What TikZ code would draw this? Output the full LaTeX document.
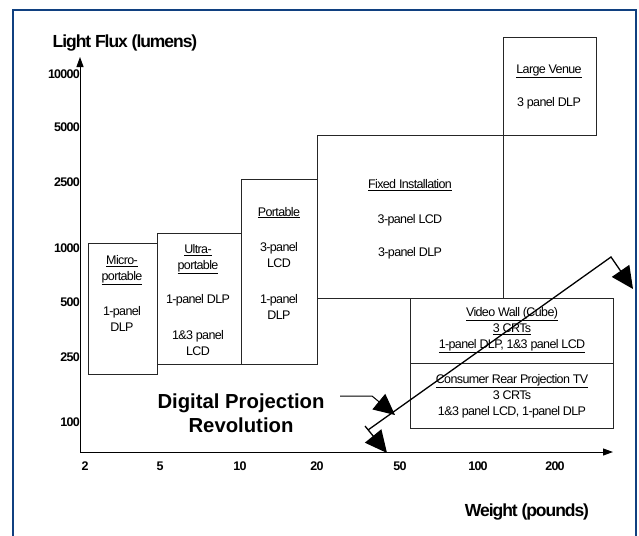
\documentclass[tikz,border=0pt]{standalone}
\usepackage{fontspec}
\setmainfont{Liberation Sans}
\newfontfamily\condfont[LetterSpace=-5]{Liberation Sans}
\newfontfamily\condbold[LetterSpace=-6]{Liberation Sans Bold}
\usetikzlibrary{arrows.meta}
\definecolor{frameblue}{RGB}{16,64,128}
\begin{document}
\begin{tikzpicture}[x=1pt,y=-1pt,
  box/.style={draw=black!85, line width=0.8pt, minimum width=#1, anchor=north west, inner sep=0pt, outer sep=0pt},
  small/.style={font=\condfont\fontsize{12.5}{16}\selectfont, align=center, inner sep=0pt},
  axlab/.style={font=\condbold\fontsize{12.5}{13}\selectfont, inner sep=0pt},
  ttl/.style={font=\condbold\fontsize{17.5}{19}\selectfont, inner sep=0pt},
  axis/.style={line width=1pt, -{Triangle[length=10pt,width=7pt]}},
  bigtip/.style={line width=1.3pt, -{Triangle[length=22pt,width=21pt,fill=black]}}]
\useasboundingbox (0,0) rectangle (639,535);
\fill[white] (0,0) rectangle (639,535);
% frame
\draw[frameblue, line width=2.5pt] (13,545) -- (13,10) -- (636,10) -- (636,545);
% titles
\node[ttl] (ytitle) at (125,43) {Light Flux (lumens)};
\node[ttl] (xtitle) at (527,512) {Weight (pounds)};
% axes
\coordinate (O) at (80,452);
\coordinate (ytop) at (80,57);
\coordinate (xend) at (613,452);
\draw[axis] (O) -- (ytop);
\draw[axis] (O) -- (xend);
% y labels
\foreach \v/\y in {10000/74,5000/127,2500/182,1000/248,500/302,250/357,100/422}
  \node[axlab, anchor=east] (y\v) at (80,\y) {\v};
% x labels
\foreach \v/\x in {2/85,5/160,10/240,20/317,50/400,100/478,200/555}
  \node[axlab] (x\v) at (\x,466) {\v};
% boxes
\node[box=69pt, minimum height=131pt] (micro) at (88,243) {};
\node[box=84pt, minimum height=131pt] (ultra) at (157,233) {};
\node[box=76pt, minimum height=185pt] (port) at (241,179) {};
\node[box=186pt, minimum height=163pt] (fixed) at (317,135) {};
\node[box=93pt, minimum height=98pt] (large) at (503,37) {};
\node[box=203pt, minimum height=65pt] (video) at (410,298) {};
\node[box=203pt, minimum height=65pt] (cons) at (410,363) {};
% box texts
\node[small] (microt) at (122,293.5) {\underline{Micro-}\\\underline{portable}\\[19pt]1-panel\\DLP};
\node[small] (ultrat) at (198,300) {\underline{Ultra-}\\\underline{portable}\\[18pt]1-panel DLP\\[20pt]1\&3 panel\\LCD};
\node[small] (portt) at (279,263) {\underline{Portable}\\[19pt]3-panel\\LCD\\[20pt]1-panel\\DLP};
\node[small] (fixedt) at (410,219) {\underline{Fixed Installation}\\[19pt]3-panel LCD\\[17pt]3-panel DLP};
\node[small] (larget) at (549,86.5) {\underline{Large Venue}\\[17pt]3 panel DLP};
\node[small] (videot) at (512,330) {\underline{Video Wall (Cube)}\\\underline{3 CRTs}\\\underline{1-panel DLP, 1\&3 panel LCD}};
\node[small] (const) at (512,396) {\underline{Consumer Rear Projection TV}\\3 CRTs\\1\&3 panel LCD, 1-panel DLP};
% Digital projection revolution
\node[font=\bfseries\fontsize{20.3}{24}\selectfont, align=center, inner sep=0pt] (dpr) at (241,413) {Digital Projection\\Revolution};
\coordinate (dprstart) at (340,396);
\coordinate (dprbend) at (372,396);
\coordinate (dprtip) at (395,415);
\draw[line width=1pt, -{Triangle[length=21pt,width=20pt,fill=black]}] (dprstart) -- (dprbend) -- (dprtip);
% diagonal double arrow
\coordinate (dlow) at (368,430);
\coordinate (dlowback) at (365,426);
\coordinate (dhigh) at (611,257);
\coordinate (tipA) at (633,289);
\coordinate (tipB) at (387,453);
\draw[bigtip] (dlow) -- (dhigh) -- (tipA);
\draw[bigtip] (dlowback) -- (tipB);
\end{tikzpicture}
\end{document}
